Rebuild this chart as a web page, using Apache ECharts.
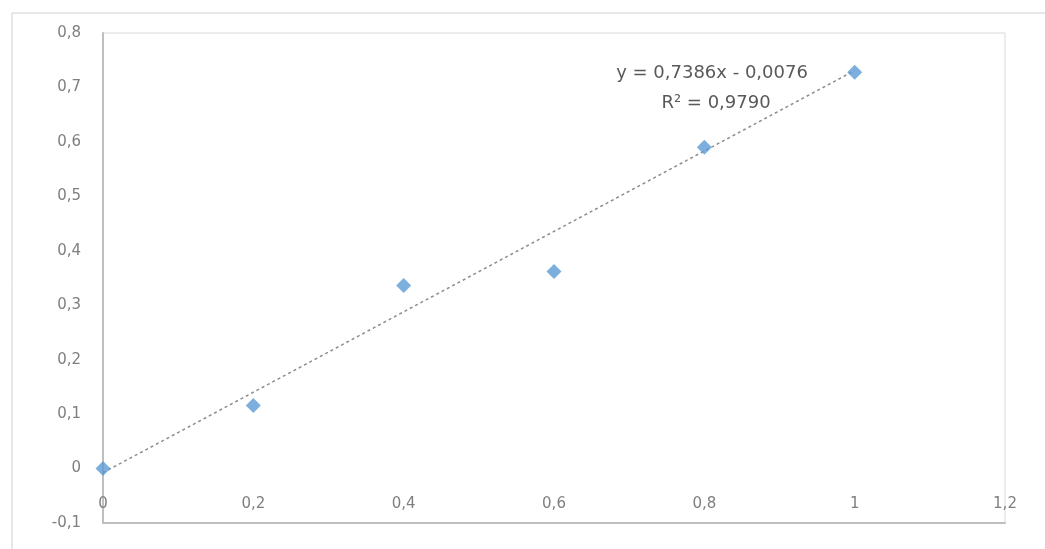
<!DOCTYPE html>
<html>
<head>
<meta charset="utf-8">
<script src="https://cdn.jsdelivr.net/npm/echarts@6/dist/echarts.min.js"></script>
<style>
  html, body { margin: 0; padding: 0; background: #fff; }
  #chart { width: 1045px; height: 549px; }
</style>
</head>
<body>
<div id="chart"></div>
<script>
// Measured samples
const xValues = [0, 0.2, 0.4, 0.6, 0.8, 1.0];
const yValues = [0, 0.116, 0.336, 0.362, 0.590, 0.728];

// Linear trendline coefficients and fit quality
const slope = 0.7386;
const intercept = -0.0076;
const rSquared = '0,9790';
const trendX = [0, 1.0];

const comma = v => String(Math.round(v * 10) / 10).replace('.', ',');

const points = xValues.map((x, i) => [x, yValues[i]]);
const trend = trendX.map(x => [x, slope * x + intercept]);

const chart = echarts.init(document.getElementById('chart'));
chart.setOption({
  animation: false,
  backgroundColor: '#fff',
  grid: { left: 103, right: 40, top: 33, bottom: 26, show: true, borderColor: '#d9d9d9', borderWidth: 1 },
  xAxis: {
    type: 'value', min: 0, max: 1.2, interval: 0.2,
    axisLine: { show: true, onZero: false, lineStyle: { color: '#bfbfbf', width: 2 } },
    axisTick: { show: false },
    splitLine: { show: false },
    axisLabel: { inside: true, margin: 11, color: '#7f7f7f', fontSize: 15, fontFamily: 'DejaVu Sans', formatter: comma }
  },
  yAxis: {
    type: 'value', min: -0.1, max: 0.8, interval: 0.1,
    axisLine: { show: true, onZero: false, lineStyle: { color: '#bfbfbf', width: 2 } },
    axisTick: { show: false },
    splitLine: { show: false },
    axisLabel: { margin: 22, color: '#7f7f7f', fontSize: 15, fontFamily: 'DejaVu Sans', formatter: comma }
  },
  graphic: [
    { type: 'rect', shape: { x: 12, y: 13, width: 1040, height: 545 }, style: { fill: 'none', stroke: '#cfcfcf', lineWidth: 1 }, silent: true },
    { type: 'text', x: 712, y: 73, style: { text: 'y = 0,7386x - 0,0076', fill: '#595959', font: '18px DejaVu Sans', align: 'center', verticalAlign: 'middle' } },
    { type: 'text', x: 716, y: 103, style: { text: 'R² = ' + rSquared, fill: '#595959', font: '18px DejaVu Sans', align: 'center', verticalAlign: 'middle' } }
  ],
  series: [
    {
      type: 'line', data: trend, symbol: 'none',
      lineStyle: { color: '#8c8c8c', width: 1.5, type: [3, 3] },
      z: 2
    },
    {
      type: 'scatter', data: points, symbol: 'diamond', symbolSize: 15,
      itemStyle: { color: '#5b9bd5' },
      z: 3
    }
  ]
});
</script>
</body>
</html>
